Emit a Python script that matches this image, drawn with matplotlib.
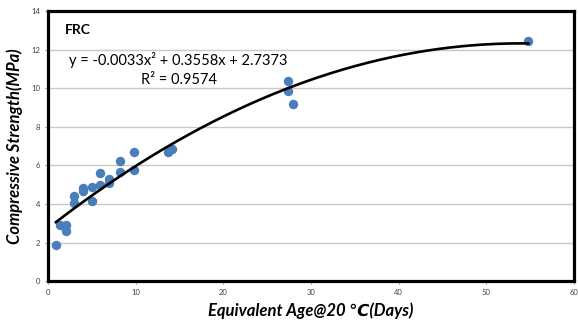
import numpy as np
import matplotlib.pyplot as plt

# equivalent age (days) and compressive strength (MPa) of the FRC cubes
age = [0.9, 1.4, 2.1, 2.1, 3.0, 3.0, 4.0, 4.0, 5.0, 5.0, 5.9, 5.9, 7.0, 7.0,
       8.2, 8.2, 9.8, 9.8, 13.7, 14.1, 27.4, 27.4, 28.0, 54.8]
strength = [1.87, 2.9, 2.9, 2.6, 4.42, 4.06, 4.84, 4.68, 4.87, 4.16, 5.6, 5.0,
            5.27, 5.1, 6.22, 5.65, 6.67, 5.74, 6.7, 6.84, 10.38, 9.86, 9.2, 12.43]

# quadratic trend (coefficients as reported)
coef = [-0.0033, 0.3558, 2.7373]
r2 = 0.9574

xticks = [0, 10, 20, 30, 40, 50, 60]
yticks = [0, 2, 4, 6, 8, 10, 12, 14]

plt.rcParams['font.family'] = ['Lato', 'DejaVu Sans']

fig = plt.figure(figsize=(5.78, 3.28), dpi=100)
ax = fig.add_axes([0.083, 0.143, 0.910, 0.823])

ax.scatter(age, strength, s=46, color='#4A7EBB', zorder=3, linewidths=0)

xf = np.linspace(min(age), max(age), 200)
ax.plot(xf, np.polyval(coef, xf), color='black', lw=1.9, zorder=4)

ax.set_xlim(0, 60)
ax.set_ylim(0, 14)
ax.set_xticks(xticks)
ax.set_yticks(yticks)
ax.tick_params(labelsize=5.5, labelcolor='#404040', length=2, width=0.6, color='#808080')
ax.grid(axis='y', color='#C8C8C8', lw=1.0)
ax.set_axisbelow(True)
for s in ax.spines.values():
    s.set_linewidth(2.3)
    s.set_color('black')

ax.text(0.033, 0.93, 'FRC', transform=ax.transAxes, fontsize=10, fontweight='bold',
        va='center', ha='left')
ax.text(0.248, 0.818, 'y = -0.0033x² + 0.3558x + 2.7373', transform=ax.transAxes,
        fontsize=10.5, ha='center', va='center')
ax.text(0.25, 0.744, f'R² = {r2}', transform=ax.transAxes, fontsize=10.5,
        ha='center', va='center')

ax.set_xlabel('Equivalent Age@20 ℃(Days)', fontsize=12, fontweight='bold',
              fontstyle='italic', labelpad=5)
ax.set_ylabel('Compressive Strength(MPa)', fontsize=12, fontweight='bold',
              fontstyle='italic', labelpad=6)

fig.savefig('out.png', dpi=100)
